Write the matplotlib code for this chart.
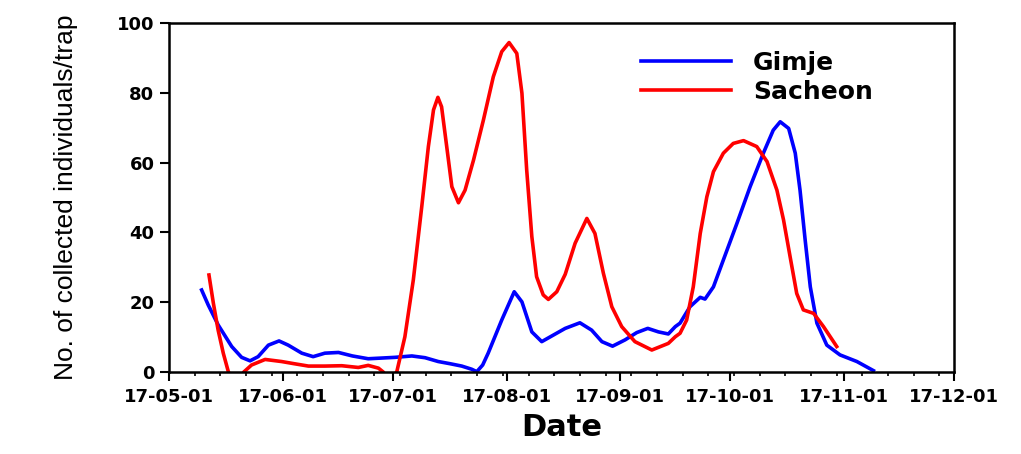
from datetime import datetime
import numpy as np
import matplotlib
matplotlib.use('Agg')
import matplotlib.pyplot as plt
import matplotlib.dates as mdates

# days after 2017-05-01 and number of individuals per trap
gimje_days = [8.9, 10.7, 13.4, 17.1, 19.8, 22.1, 24.3, 27.1, 30.0, 32.5, 36.2, 39.3, 42.5,
              46.2, 50.0, 54.3, 58.0, 61.6, 66.2, 69.8, 73.4, 76.5, 79.8, 82.5, 83.9,
              85.5, 87.0, 90.7, 94.1, 96.2, 98.9, 101.6, 104.8, 108.0, 112.0, 115.2,
              118.0, 120.9, 124.3, 127.5, 130.5, 133.4, 136.1, 138.0, 139.3, 142.0,
              144.8, 146.1, 148.4, 151.1, 154.8, 158.4, 162.0, 164.7, 166.6, 168.9,
              170.7, 172.0, 173.4, 174.8, 176.6, 179.3, 182.9, 187.5, 192.0]
gimje_vals = [23.5, 19.2, 13.5, 7.3, 4.2, 3.2, 4.4, 7.7, 8.9, 7.7, 5.4, 4.4, 5.4,
              5.6, 4.6, 3.8, 4.0, 4.2, 4.6, 4.1, 3.0, 2.4, 1.7, 0.8, 0.1,
              2.0, 5.4, 14.9, 23.0, 20.1, 11.5, 8.7, 10.6, 12.5, 14.1, 12.0,
              8.7, 7.4, 9.2, 11.3, 12.5, 11.5, 10.9, 13.0, 14.0, 18.7,
              21.4, 20.9, 24.4, 32.1, 42.6, 53.1, 62.7, 69.3, 71.7, 69.8,
              62.7, 52.1, 37.8, 24.4, 14.0, 7.7, 4.9, 3.0, 0.4]

sacheon_days = [10.9, 12.1, 13.4, 14.8, 16.2, 18.3, 20.4, 22.5, 26.2, 30.7, 34.0, 38.0,
                42.5, 47.1, 51.6, 54.3, 57.1, 58.4, 60.2, 62.1, 64.3, 66.6, 68.9,
                70.7, 72.1, 73.3, 74.3, 75.7, 77.1, 78.9, 80.7, 83.0, 85.7, 88.4,
                90.7, 92.7, 94.8, 96.2, 97.5, 98.9, 100.2, 102.0, 103.4, 105.7,
                108.0, 110.7, 113.9, 116.1, 118.4, 120.7, 123.4, 127.0, 131.6, 136.1,
                138.0, 139.3, 141.1, 142.9, 144.8, 146.6, 148.4, 151.1, 153.8, 156.6,
                160.2, 163.0, 165.7, 167.5, 169.3, 171.1, 172.9, 175.7, 178.4, 182.0]
sacheon_vals = [27.8, 19.7, 12.0, 5.4, 0.0, -3.5, 0.0, 2.0, 3.6, 3.0, 2.4, 1.7,
                1.7, 1.8, 1.3, 1.9, 1.1, 0.0, -3.0, 0.1, 10.1, 26.4, 47.4,
                64.6, 75.1, 78.7, 76.0, 64.6, 53.1, 48.5, 52.1, 60.7, 72.2, 84.6,
                91.8, 94.4, 91.3, 79.9, 57.9, 38.8, 27.3, 22.1, 20.8, 23.0,
                28.0, 36.9, 44.0, 39.7, 28.3, 18.7, 13.0, 8.7, 6.3, 8.2,
                10.1, 11.1, 14.9, 24.4, 39.7, 50.2, 57.4, 62.7, 65.5, 66.3,
                64.6, 60.3, 52.1, 43.6, 33.0, 22.5, 17.8, 16.8, 13.0, 7.3]

start = mdates.date2num(datetime(2017, 5, 1))
end = mdates.date2num(datetime(2017, 12, 1))

fig = plt.figure(figsize=(10.21, 4.54), dpi=100)
ax = fig.add_axes([0.1655, 0.1806, 0.769, 0.7687])

ax.plot(start + np.array(gimje_days), gimje_vals, color='#0000ff', lw=2.6,
        solid_joinstyle='round', label='Gimje')
ax.plot(start + np.array(sacheon_days), sacheon_vals, color='#ff0000', lw=2.6,
        solid_joinstyle='round', label='Sacheon')

ax.set_xlim(start, end)
ax.set_ylim(0, 100)
ax.xaxis.set_major_locator(mdates.MonthLocator())
ax.xaxis.set_minor_locator(mdates.WeekdayLocator(byweekday=mdates.MO))
ax.xaxis.set_major_formatter(mdates.DateFormatter('%y-%m-%d'))
ax.set_yticks([0, 20, 40, 60, 80, 100])

for s in ax.spines.values():
    s.set_linewidth(1.8)
ax.tick_params(which='major', direction='out', length=6.5, width=1.5, pad=4)
ax.tick_params(which='minor', direction='out', length=3, width=1.2)
ax.tick_params(axis='x', which='major', pad=5)

for lab in ax.get_xticklabels() + ax.get_yticklabels():
    lab.set_fontfamily('DejaVu Sans')
    lab.set_fontweight('bold')
    lab.set_fontsize(13)

ax.set_xlabel('Date', family='DejaVu Sans', weight='bold', fontsize=22, labelpad=5)
ax.set_ylabel('No. of collected individuals/trap', family='Liberation Sans',
              fontsize=19, weight='medium', labelpad=28)

ax.legend(loc='upper left', bbox_to_anchor=(0.572, 0.985), frameon=False,
          handlelength=3.6, labelspacing=0.2, handletextpad=0.9,
          prop=dict(family='DejaVu Sans', weight='bold', size=18))

fig.savefig('out.png', dpi=100)
